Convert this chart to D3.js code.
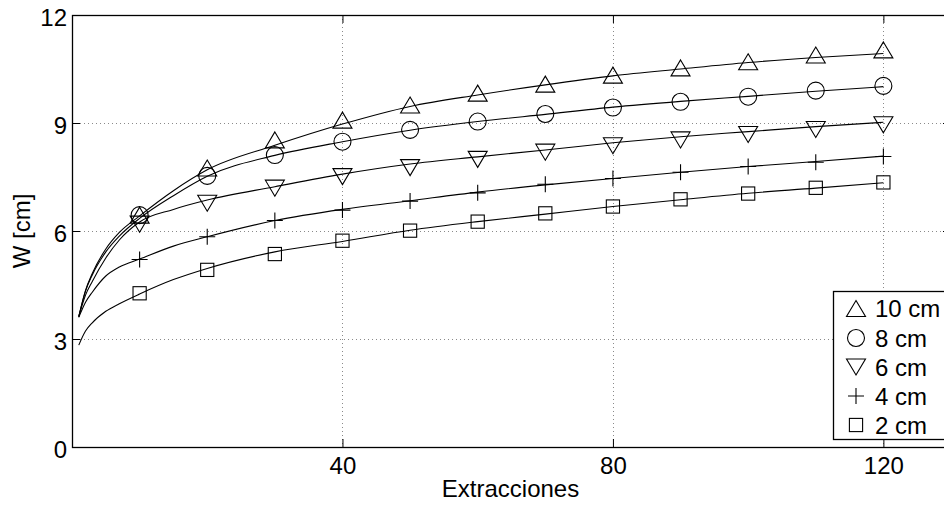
<!DOCTYPE html>
<html><head><meta charset="utf-8">
<script src="https://cdn.jsdelivr.net/npm/d3@7"></script>
<style>
html,body{margin:0;padding:0;background:#fff;overflow:hidden;}
svg{display:block;font-family:"Liberation Sans",Arial,sans-serif;}
</style></head>
<body>
<svg id="chart" width="944" height="505"></svg>
<script>
// ---------- data ----------
const xMarkers = [10,20,30,40,50,60,70,80,90,100,110,120];
const w10 = [6.44,7.75,8.53,9.08,9.50,9.83,10.08,10.33,10.53,10.70,10.89,11.03];
const w8  = [6.44,7.53,8.11,8.48,8.81,9.04,9.25,9.43,9.59,9.73,9.90,10.03];
const w6  = [6.19,6.77,7.19,7.51,7.76,7.99,8.19,8.37,8.53,8.68,8.82,8.95];
const w4  = [5.21,5.84,6.29,6.58,6.83,7.06,7.30,7.46,7.63,7.79,7.91,8.07];
const w2  = [4.27,4.92,5.36,5.73,6.01,6.26,6.49,6.68,6.88,7.04,7.20,7.35];

const xFit  = [1,2,3,5,7,10,15,20,30,40,50,60,70,80,90,100,110,120];
const fit10 = [3.62,4.35,4.82,5.50,5.96,6.42,7.12,7.70,8.38,8.97,9.46,9.78,10.06,10.31,10.50,10.68,10.82,10.93];
const fit8  = [3.62,4.33,4.78,5.42,5.86,6.35,6.98,7.52,8.10,8.48,8.80,9.04,9.24,9.44,9.60,9.74,9.88,10.01];
const fit6  = [3.62,4.22,4.60,5.25,5.75,6.25,6.60,6.86,7.23,7.58,7.86,8.06,8.25,8.45,8.62,8.76,8.90,9.02];
const fit4  = [3.60,4.02,4.30,4.75,5.00,5.22,5.58,5.84,6.29,6.60,6.84,7.08,7.28,7.46,7.63,7.79,7.93,8.08];
const fit2  = [2.83,3.22,3.45,3.77,3.98,4.25,4.65,4.96,5.42,5.71,6.02,6.26,6.47,6.68,6.87,7.05,7.19,7.34];

const seriesLabels = ["10 cm","8 cm","6 cm","4 cm","2 cm"];
const seriesMarkers = ["triUp","circle","triDown","plus","square"];
const xTicks = [40,80,120];
const yTicks = [0,3,6,9,12];
const xTitle = "Extracciones";
const yTitle = "W [cm]";

const series = [
  {label:seriesLabels[0], marker:seriesMarkers[0], pts:w10, fit:fit10},
  {label:seriesLabels[1], marker:seriesMarkers[1], pts:w8,  fit:fit8},
  {label:seriesLabels[2], marker:seriesMarkers[2], pts:w6,  fit:fit6},
  {label:seriesLabels[3], marker:seriesMarkers[3], pts:w4,  fit:fit4},
  {label:seriesLabels[4], marker:seriesMarkers[4], pts:w2,  fit:fit2}
];

// ---------- layout ----------
const L = 72, T = 15, R = 951, B = 447;
const svg = d3.select("#chart");
const x = d3.scaleLinear().domain([0,130]).range([L,R]);
const y = d3.scaleLinear().domain([0,12]).range([B,T]);
const FS = 24;

// grid
const grid = svg.append("g").attr("stroke","#8a8a8a").attr("stroke-width",1).attr("stroke-dasharray","1,3");
xTicks.forEach(t=>grid.append("line").attr("x1",Math.round(x(t))+0.5).attr("x2",Math.round(x(t))+0.5).attr("y1",T).attr("y2",B));
yTicks.filter(t=>t>0&&t<12).forEach(t=>grid.append("line").attr("y1",Math.round(y(t))+0.5).attr("y2",Math.round(y(t))+0.5).attr("x1",L).attr("x2",R));

// axes (ticks inside)
const tickLen = 8;
const axL = svg.append("g").attr("transform",`translate(${L},0)`)
  .call(d3.axisLeft(y).tickValues(yTicks).tickSizeInner(-tickLen).tickSizeOuter(0).tickPadding(5).tickFormat(d3.format("d")));
const axR = svg.append("g").attr("transform",`translate(${R},0)`)
  .call(d3.axisRight(y).tickValues(yTicks).tickSizeInner(-tickLen).tickSizeOuter(0).tickFormat(""));
const axB = svg.append("g").attr("transform",`translate(0,${B})`)
  .call(d3.axisBottom(x).tickValues(xTicks).tickSizeInner(-tickLen).tickSizeOuter(0).tickPadding(10).tickFormat(d3.format("d")));
const axT = svg.append("g").attr("transform",`translate(0,${T})`)
  .call(d3.axisTop(x).tickValues(xTicks).tickSizeInner(-tickLen).tickSizeOuter(0).tickFormat(""));
[axL,axR,axB,axT].forEach(a=>{
  a.select(".domain").remove();
  a.selectAll("line").attr("stroke","#000").attr("stroke-width",1);
  a.selectAll("text").attr("font-size",FS).attr("fill","#000").attr("font-family","Liberation Sans, Arial, sans-serif");
});
axL.selectAll("text").attr("dy","0.42em");
axB.selectAll("text").attr("dy","0.71em");

// box
svg.append("rect").attr("x",L+0.5).attr("y",T+0.5).attr("width",R-L).attr("height",B-T)
  .attr("fill","none").attr("stroke","#000").attr("stroke-width",1.3);

// fitted curves
const line = d3.line().x((d,i)=>x(xFit[i])).y(d=>y(d)).curve(d3.curveMonotoneX);
series.forEach(s=>{
  svg.append("path").attr("d",line(s.fit)).attr("fill","none").attr("stroke","#000").attr("stroke-width",1.1);
});

// markers
function drawMarker(g, type, cx, cy){
  const st = {fill:"none", stroke:"#000", "stroke-width":1.1};
  let el;
  if(type==="triUp"){
    el = g.append("path").attr("d",`M${cx},${cy-8}L${cx+9.5},${cy+8}L${cx-9.5},${cy+8}Z`);
  } else if(type==="triDown"){
    el = g.append("path").attr("d",`M${cx},${cy+8}L${cx+9.5},${cy-8}L${cx-9.5},${cy-8}Z`);
  } else if(type==="circle"){
    el = g.append("circle").attr("cx",cx).attr("cy",cy).attr("r",8.5);
  } else if(type==="square"){
    el = g.append("rect").attr("x",cx-6.6).attr("y",cy-6.6).attr("width",13.2).attr("height",13.2);
  } else {
    el = g.append("path").attr("d",`M${cx-8},${cy}L${cx+8},${cy}M${cx},${cy-8}L${cx},${cy+8}`);
  }
  Object.entries(st).forEach(([k,v])=>el.attr(k,v));
}
const mg = svg.append("g");
series.forEach(s=>{
  s.pts.forEach((v,i)=>drawMarker(mg, s.marker, x(xMarkers[i]), y(v)));
});

// axis titles
svg.append("text").attr("x",(L+R)/2 - 1).attr("y",497).attr("text-anchor","middle")
  .attr("font-size",FS).text(xTitle);
svg.append("text").attr("transform",`translate(30,${(T+B)/2}) rotate(-90)`).attr("text-anchor","middle")
  .attr("font-size",FS).text(yTitle);

// legend
const lg = svg.append("g");
lg.append("rect").attr("x",833.5).attr("y",291.5).attr("width",130).attr("height",148)
  .attr("fill","#fff").attr("stroke","#000").attr("stroke-width",1.3);
const legY = [308.5,338,367,396,425];
series.forEach((s,i)=>{
  drawMarker(lg, s.marker, 856, legY[i]);
  lg.append("text").attr("x",875).attr("y",legY[i]).attr("dy","0.36em").attr("font-size",FS).text(s.label);
});
</script>
</body></html>
